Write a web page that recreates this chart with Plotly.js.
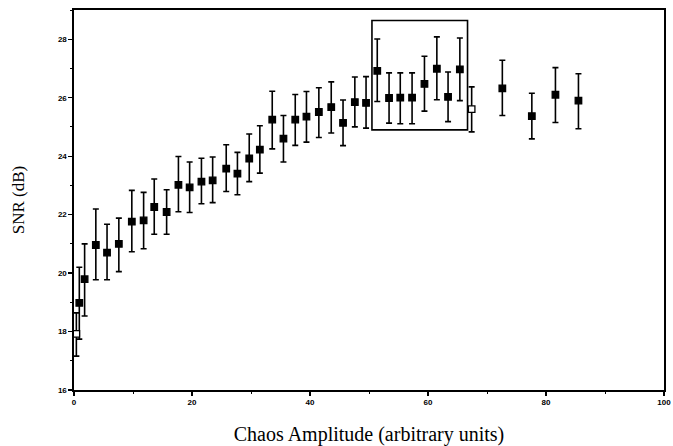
<!DOCTYPE html>
<html>
<head>
<meta charset="utf-8">
<script src="https://cdn.plot.ly/plotly-3.0.1.min.js"></script>
<style>html,body{margin:0;padding:0;background:#fff;}#chart{width:673px;height:446px;}</style>
</head>
<body>
<div id="chart"></div>
<script>
// Chaos amplitude (arbitrary units)
const amplitude = [0.4, 0.9, 1.8, 3.7, 5.6, 7.6, 9.8, 11.8, 13.6, 15.7, 17.7, 19.6, 21.6, 23.5, 25.8, 27.7, 29.7, 31.5, 33.6, 35.5, 37.5, 39.4, 41.5, 43.6, 45.6, 47.6, 49.5, 51.4, 53.4, 55.3, 57.3, 59.4, 61.5, 63.4, 65.4, 67.4, 72.6, 77.6, 81.6, 85.5];
// SNR (dB) mean values
const snr = [17.92, 18.98, 19.79, 20.96, 20.70, 21.00, 21.76, 21.80, 22.26, 22.09, 23.02, 22.93, 23.13, 23.17, 23.57, 23.40, 23.92, 24.22, 25.25, 24.60, 25.25, 25.35, 25.51, 25.68, 25.14, 25.85, 25.82, 26.92, 25.99, 26.00, 26.00, 26.47, 26.99, 26.03, 26.97, 25.61, 26.32, 25.37, 26.10, 25.90];
// Error bar upper and lower ends (dB)
const snrUpper = [18.64, 20.20, 21.00, 22.19, 21.67, 21.88, 22.83, 22.76, 23.22, 22.85, 23.99, 23.80, 23.93, 23.97, 24.39, 24.13, 24.76, 25.04, 26.22, 25.39, 26.11, 26.21, 26.34, 26.54, 25.92, 26.71, 26.72, 28.01, 26.85, 26.85, 26.85, 27.42, 28.08, 26.88, 28.04, 26.37, 27.28, 26.15, 27.03, 26.82];
const snrLower = [17.16, 17.74, 18.53, 19.77, 19.77, 20.05, 20.73, 20.83, 21.33, 21.33, 22.10, 22.07, 22.37, 22.41, 22.79, 22.68, 23.13, 23.42, 24.25, 23.80, 24.37, 24.48, 24.64, 24.79, 24.36, 25.00, 24.96, 25.87, 25.13, 25.11, 25.11, 25.54, 25.93, 25.18, 25.90, 24.83, 25.39, 24.59, 25.15, 24.94];
// Points drawn as open squares
const openPoints = [0, 35];
// Highlighted region box [x0, x1, y0, y1]
const boxRegion = [50.5, 66.7, 24.9, 28.64];
const xTicks = [0, 20, 40, 60, 80, 100];
const yTicks = [16, 18, 20, 22, 24, 26, 28];

const errPlus = snrUpper.map((u, i) => u - snr[i]);
const errMinus = snrLower.map((l, i) => snr[i] - l);
const fillColors = snr.map((_, i) => openPoints.includes(i) ? '#ffffff' : '#000000');

const trace = {
  x: amplitude, y: snr, type: 'scatter', mode: 'markers',
  marker: {symbol: 'square', size: 6.5, color: fillColors, line: {color: '#000', width: 1.3}},
  error_y: {type: 'data', symmetric: false, array: errPlus, arrayminus: errMinus,
            color: '#000', thickness: 1.6, width: 3},
  showlegend: false, hoverinfo: 'skip'
};

const tickFont = {family: 'Liberation Sans, Arial, sans-serif', size: 8, color: '#000', weight: 'bold'};

const layout = {
  width: 673, height: 446,
  margin: {l: 74, r: 9, t: 10, b: 56, pad: 0},
  paper_bgcolor: '#fff', plot_bgcolor: '#fff',
  xaxis: {
    range: [0, 100], tickvals: xTicks, ticktext: xTicks.map(String),
    ticks: 'outside', ticklen: 4, tickwidth: 1.3, tickcolor: '#000',
    minor: {dtick: 10, tick0: 0, ticks: 'outside', ticklen: 2, tickwidth: 1, tickcolor: '#000', showgrid: false},
    showline: true, mirror: true, linecolor: '#000', linewidth: 1.6,
    showgrid: false, zeroline: false, tickfont: tickFont,
    title: {text: 'Chaos Amplitude (arbitrary units)', font: {family: 'Liberation Serif, Times New Roman, serif', size: 20, color: '#000'}, standoff: 23}
  },
  yaxis: {
    range: [16, 29], tickvals: yTicks, ticktext: yTicks.map(String),
    ticks: 'outside', ticklen: 4, tickwidth: 1.3, tickcolor: '#000',
    minor: {dtick: 1, tick0: 16, ticks: 'outside', ticklen: 2, tickwidth: 1, tickcolor: '#000', showgrid: false},
    showline: true, mirror: true, linecolor: '#000', linewidth: 1.6,
    showgrid: false, zeroline: false, tickfont: tickFont,
    title: {text: 'SNR (dB)', font: {family: 'Liberation Serif, Times New Roman, serif', size: 17, color: '#000'}, standoff: 29}
  },
  shapes: [{type: 'rect', xref: 'x', yref: 'y', x0: boxRegion[0], x1: boxRegion[1], y0: boxRegion[2], y1: boxRegion[3],
            line: {color: '#000', width: 1.6}, fillcolor: 'rgba(0,0,0,0)'}]
};

Plotly.newPlot('chart', [trace], layout, {displayModeBar: false, staticPlot: true});
</script>
</body>
</html>
